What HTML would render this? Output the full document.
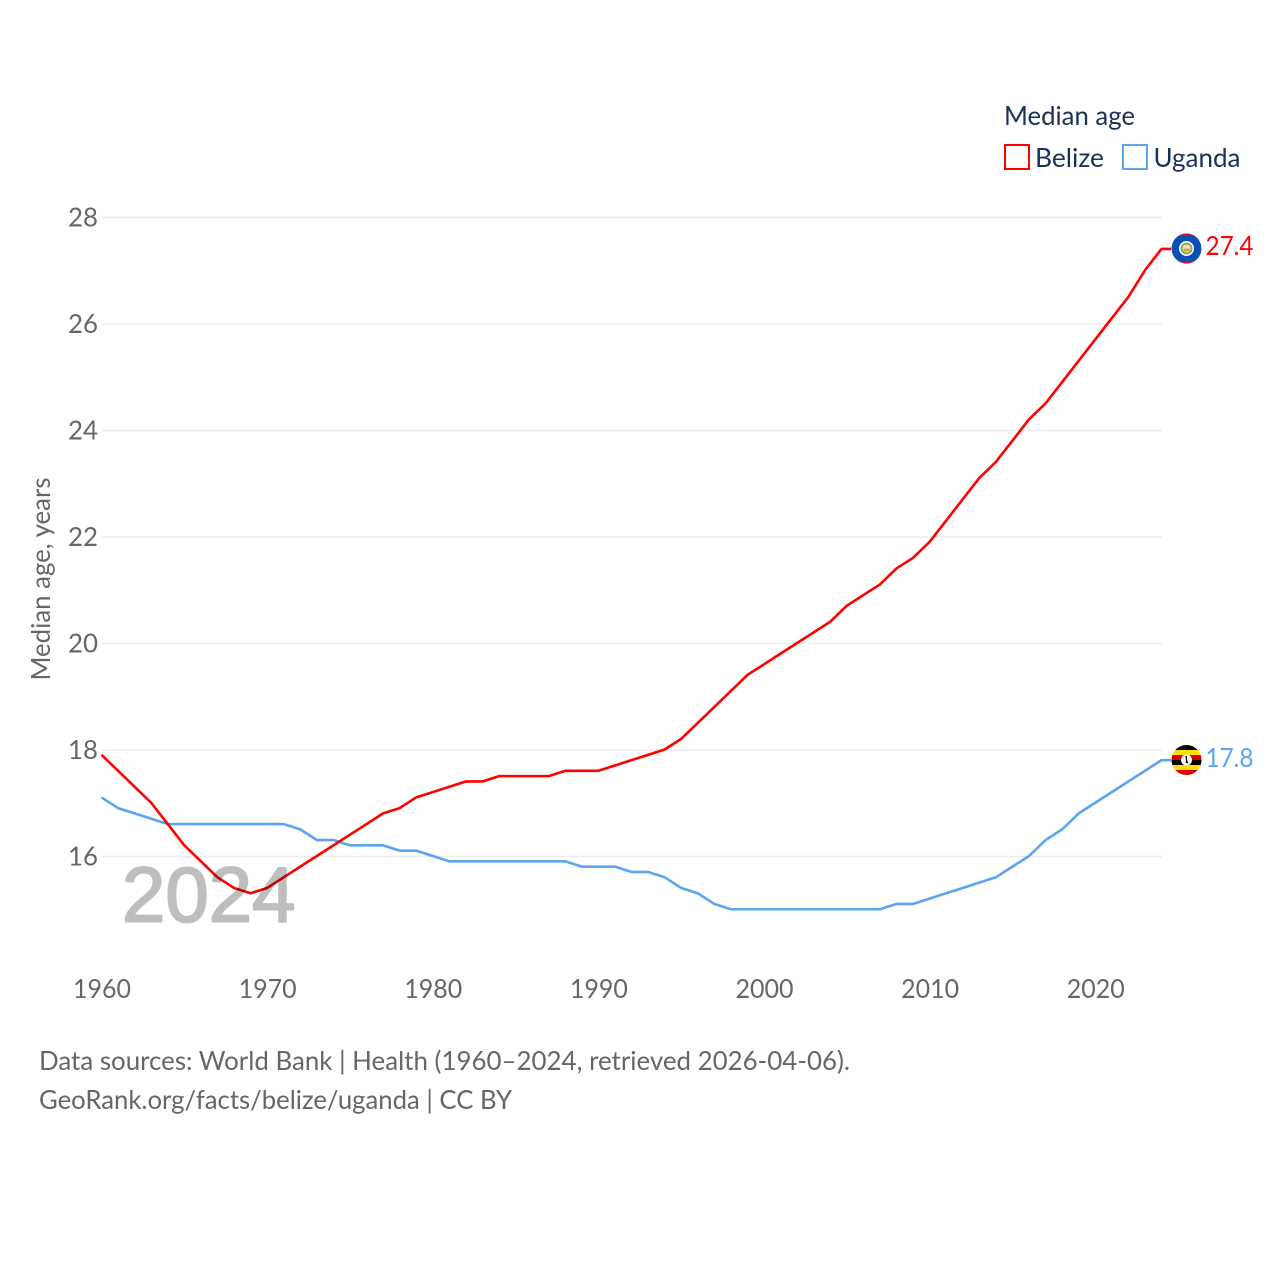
<!DOCTYPE html>
<html lang="en">
<head>
<meta charset="utf-8">
<title>Median age: Belize and Uganda</title>
<style>
html,body{margin:0;padding:0;background:#fff;width:1280px;height:1280px;overflow:hidden}
svg{display:block}
text{font-family:"Lato","Carlito","Liberation Sans",sans-serif}
</style>
</head>
<body>
<svg id="chart" xmlns="http://www.w3.org/2000/svg" width="1280" height="1280" viewBox="0 0 1280 1280">
  <defs>
    <clipPath id="clip-flag-belize"><circle cx="1186.5" cy="248.5" r="15"/></clipPath>
    <clipPath id="clip-flag-uganda"><circle cx="1186.5" cy="760" r="15"/></clipPath>
  </defs>
  <rect x="0" y="0" width="1280" height="1280" fill="#fff"/>
  <g id="grid"></g>
  <g id="y-ticks"></g>
  <g id="x-ticks"></g>
  <text transform="translate(50,579) rotate(-90)" text-anchor="middle" font-size="26" fill="#666" textLength="203" lengthAdjust="spacingAndGlyphs">Median age, years</text>
  <g id="series" transform="translate(0,-0.5)"></g>
  <text x="122" y="921.5" font-size="78" fill="#000" stroke="#000" stroke-width="2" stroke-linejoin="round" opacity="0.25" style="font-family:'Liberation Sans',sans-serif">2024</text>

  <g>
    <text x="1004" y="125" font-size="26" fill="#1a3157" textLength="131" lengthAdjust="spacingAndGlyphs">Median age</text>
    <g>
      <rect x="1005" y="145" width="24" height="24" fill="#fff" stroke="#ff0000" stroke-width="2"/>
      <text x="1035" y="167" font-size="26" fill="#1a3157" textLength="69" lengthAdjust="spacingAndGlyphs">Belize</text>
    </g>
    <g>
      <rect x="1123" y="145" width="24" height="24" fill="#fff" stroke="#5ba4f0" stroke-width="2"/>
      <text x="1153.5" y="167" font-size="26" fill="#1a3157" textLength="87" lengthAdjust="spacingAndGlyphs">Uganda</text>
    </g>
  </g>

  <g clip-path="url(#clip-flag-belize)">
    <rect x="1171" y="233" width="31" height="31" fill="#0a50b4"/>
    <rect x="1171" y="233" width="31" height="3" fill="#ce1126"/>
    <rect x="1171" y="261" width="31" height="3" fill="#ce1126"/>
    <circle cx="1186.5" cy="248.5" r="7.5" fill="#fff"/>
    <circle cx="1186.5" cy="248.5" r="6" fill="#8fa86a"/>
    <circle cx="1186.5" cy="248.5" r="4" fill="#e9e2c8"/>
    <rect x="1183.5" y="248.5" width="6" height="3" fill="#d9a93a"/>
  </g>
  <g clip-path="url(#clip-flag-uganda)">
    <rect x="1171" y="745" width="31" height="5" fill="#000"/>
    <rect x="1171" y="750" width="31" height="5" fill="#fcdc04"/>
    <rect x="1171" y="755" width="31" height="5" fill="#d90000"/>
    <rect x="1171" y="760" width="31" height="5" fill="#000"/>
    <rect x="1171" y="765" width="31" height="5" fill="#fcdc04"/>
    <rect x="1171" y="770" width="31" height="5" fill="#d90000"/>
    <circle cx="1186.5" cy="760" r="5.5" fill="#fff"/>
    <path d="M1185.5 756 l1.5 0 l0 3.5 l1.2 3.5 l-2.4 0 l0 -3.5 z" fill="#000"/>
  </g>
  <text x="1205.5" y="255" font-size="26" fill="#ff0000" textLength="48" lengthAdjust="spacingAndGlyphs">27.4</text>
  <text x="1205.5" y="767" font-size="26" fill="#5ba4f0" textLength="48" lengthAdjust="spacingAndGlyphs">17.8</text>

  <text x="39" y="1070" font-size="26" fill="#666" textLength="811" lengthAdjust="spacingAndGlyphs">Data sources: World Bank | Health (1960–2024, retrieved 2026-04-06).</text>
  <text x="39" y="1109" font-size="26" fill="#666" textLength="473" lengthAdjust="spacingAndGlyphs">GeoRank.org/facts/belize/uganda | CC BY</text>
</svg>
<script>
const startYear = 1960;
const belizeValues = [17.9,17.6,17.3,17.0,16.6,16.2,15.9,15.6,15.4,15.3,15.4,15.6,15.8,16.0,16.2,16.4,16.6,16.8,16.9,17.1,17.2,17.3,17.4,17.4,17.5,17.5,17.5,17.5,17.6,17.6,17.6,17.7,17.8,17.9,18.0,18.2,18.5,18.8,19.1,19.4,19.6,19.8,20.0,20.2,20.4,20.7,20.9,21.1,21.4,21.6,21.9,22.3,22.7,23.1,23.4,23.8,24.2,24.5,24.9,25.3,25.7,26.1,26.5,27.0,27.4];
const ugandaValues = [17.1,16.9,16.8,16.7,16.6,16.6,16.6,16.6,16.6,16.6,16.6,16.6,16.5,16.3,16.3,16.2,16.2,16.2,16.1,16.1,16.0,15.9,15.9,15.9,15.9,15.9,15.9,15.9,15.9,15.8,15.8,15.8,15.7,15.7,15.6,15.4,15.3,15.1,15.0,15.0,15.0,15.0,15.0,15.0,15.0,15.0,15.0,15.0,15.1,15.1,15.2,15.3,15.4,15.5,15.6,15.8,16.0,16.3,16.5,16.8,17.0,17.2,17.4,17.6,17.8];
const yTickValues = [16,18,20,22,24,26,28];
const xTickYears = [1960,1970,1980,1990,2000,2010,2020];

const SVGNS = 'http://www.w3.org/2000/svg';
function xScale(year){ return 101.5 + (year - 1960) * (1060 / 64); }
function yScale(v){ return 856.5 - (v - 16) * (639 / 12); }
function make(tag, attrs, parent){
  const el = document.createElementNS(SVGNS, tag);
  for (const k in attrs) el.setAttribute(k, attrs[k]);
  parent.appendChild(el);
  return el;
}
const grid = document.getElementById('grid');
const yTicks = document.getElementById('y-ticks');
const xTicks = document.getElementById('x-ticks');
const series = document.getElementById('series');

yTickValues.forEach(function(v){
  const line = make('line', {x1:102, x2:1162, y1:yScale(v), y2:yScale(v), stroke:'#ededed', 'stroke-width':1.5}, grid);
  
  
  const label = make('text', {x:98, y:yScale(v)+9, 'text-anchor':'end', 'font-size':26, fill:'#666', textLength:30, lengthAdjust:'spacingAndGlyphs'}, yTicks);
  label.textContent = String(v);
  
  
});
xTickYears.forEach(function(y){
  const label = make('text', {x:xScale(y)+0.5, y:998, 'text-anchor':'middle', 'font-size':26, fill:'#666', textLength:58, lengthAdjust:'spacingAndGlyphs'}, xTicks);
  label.textContent = String(y);
  
  
});
function pathFor(values){
  return values.map(function(v, i){
    return (i ? 'L' : 'M') + xScale(startYear + i).toFixed(2) + ' ' + yScale(v).toFixed(2);
  }).join(' ') + ' H1171';
}
const ugandaLine = make('path', {d:pathFor(ugandaValues), fill:'none', stroke:'#5ba4f0', 'stroke-width':2.6, 'stroke-linejoin':'round'}, series);


const belizeLine = make('path', {d:pathFor(belizeValues), fill:'none', stroke:'#ff0000', 'stroke-width':2.6, 'stroke-linejoin':'round'}, series);


</script>
</body>
</html>
